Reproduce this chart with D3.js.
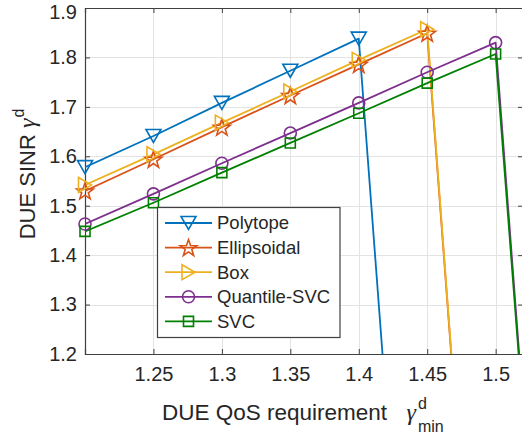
<!DOCTYPE html>
<html>
<head>
<meta charset="utf-8">
<script src="https://cdn.jsdelivr.net/npm/d3@7/dist/d3.min.js"></script>
<style>
  html, body { margin: 0; padding: 0; background: #fff; }
  svg { display: block; font-family: "Liberation Sans", Arial, Helvetica, sans-serif; }
  .greek { font-family: "Liberation Serif", "DejaVu Serif", serif; font-style: italic; }
</style>
</head>
<body>
<svg id="chart" width="522" height="437"></svg>
<script>
// QoS requirement (x) and achieved DUE SINR (y) for each scheme; 0 = infeasible
const qosValues = [1.2, 1.25, 1.3, 1.35, 1.4, 1.45, 1.5, 1.55];
const polytope    = [1.578, 1.641, 1.708, 1.773, 1.838, 0, 0, 0];
const ellipsoidal = [1.530, 1.594, 1.659, 1.723, 1.786, 1.849, 0, 0];
const box         = [1.542, 1.604, 1.668, 1.731, 1.795, 1.857, 0, 0];
const quantileSvc = [1.463, 1.524, 1.586, 1.647, 1.708, 1.770, 1.830, 0];
const svc         = [1.448, 1.506, 1.567, 1.627, 1.687, 1.748, 1.807, 0];

const seriesNames = ["Polytope", "Ellipsoidal", "Box", "Quantile-SVC", "SVC"];
const xTicks = [1.25, 1.3, 1.35, 1.4, 1.45, 1.5];
const yTicks = [1.2, 1.3, 1.4, 1.5, 1.6, 1.7, 1.8, 1.9];

const seriesValues = [polytope, ellipsoidal, box, quantileSvc, svc];
const colors = ["#0072BD", "#D95319", "#EDB120", "#7E2F8E", "#008000"];
const markers = ["triDown", "star", "triRight", "circle", "square"];

const svg = d3.select("#chart");
const plotLeft = 85, plotRight = 523, plotTop = 8, plotBottom = 354;

const x = d3.scaleLinear().domain([1.2, 1.52]).range([plotLeft, plotRight]);
const y = d3.scaleLinear().domain([1.2, 1.9]).range([plotBottom, plotTop]);

const textColor = "#262626";

// marker shapes centred on (0,0)
function markerPath(kind) {
  switch (kind) {
    case "triDown": return "M-7.5,-6.5L7.5,-6.5L0,6.5Z";
    case "triRight": return "M-6.5,-7.5L6.5,0L-6.5,7.5Z";
    case "square": return "M-5,-5H5V5H-5Z";
    case "circle": return "M6,0A6,6 0 1,1 -6,0A6,6 0 1,1 6,0Z";
    case "star": {
      const R = 8.8, r = 3.5;
      let p = "";
      for (let i = 0; i < 10; i++) {
        const a = -Math.PI / 2 + i * Math.PI / 5;
        const rr = i % 2 === 0 ? R : r;
        p += (i === 0 ? "M" : "L") + (rr * Math.cos(a)).toFixed(2) + "," + (rr * Math.sin(a) + 0.8).toFixed(2);
      }
      return p + "Z";
    }
  }
}

svg.append("defs").append("clipPath").attr("id", "plot-clip")
  .append("rect").attr("x", plotLeft).attr("y", plotTop)
  .attr("width", plotRight - plotLeft).attr("height", plotBottom - plotTop);

// background
svg.append("rect").attr("x", plotLeft).attr("y", plotTop)
  .attr("width", plotRight - plotLeft).attr("height", plotBottom - plotTop).attr("fill", "#fff");

// grid
const grid = svg.append("g").attr("stroke", "#e3e3e3").attr("stroke-width", 1);
grid.selectAll("line.gx").data(xTicks).join("line").attr("class", "gx")
  .attr("x1", d => Math.round(x(d)) + 0.5).attr("x2", d => Math.round(x(d)) + 0.5)
  .attr("y1", plotTop).attr("y2", plotBottom);
grid.selectAll("line.gy").data(yTicks).join("line").attr("class", "gy")
  .attr("y1", d => Math.round(y(d)) + 0.5).attr("y2", d => Math.round(y(d)) + 0.5)
  .attr("x1", plotLeft).attr("x2", plotRight);

// axes (inward ticks on all four sides)
const axisColor = "#404040";
const xAxisB = d3.axisBottom(x).tickValues(xTicks).tickSize(-5).tickPadding(13).tickFormat(d3.format("~g"));
const xAxisT = d3.axisTop(x).tickValues(xTicks).tickSize(-5).tickFormat("");
const yAxisL = d3.axisLeft(y).tickValues(yTicks).tickSize(-5).tickPadding(8).tickFormat(d3.format(".1f"));
const yAxisR = d3.axisRight(y).tickValues(yTicks).tickSize(-5).tickFormat("");

function styleAxis(g) {
  g.selectAll("path.domain").attr("stroke", axisColor).attr("stroke-width", 1.2);
  g.selectAll(".tick line").attr("stroke", axisColor).attr("stroke-width", 1);
  g.selectAll(".tick text").attr("fill", textColor).attr("font-size", 20)
    .attr("font-family", "Liberation Sans, Arial, sans-serif");
}

svg.append("g").attr("transform", `translate(0,${plotBottom})`).call(xAxisB).call(styleAxis);
svg.append("g").attr("transform", `translate(0,${plotTop})`).call(xAxisT).call(styleAxis);
const yAxisG = svg.append("g").attr("transform", `translate(${plotLeft},0)`).call(yAxisL).call(styleAxis);
// keep the topmost label inside the figure
yAxisG.selectAll(".tick").filter(d => d === 1.9).select("text").attr("dy", "0.5em");
svg.append("g").attr("transform", `translate(${plotRight},0)`).call(yAxisR).call(styleAxis);

// series: lines clipped to the axes, markers drawn on top unclipped
const plot = svg.append("g").attr("clip-path", "url(#plot-clip)");
const markLayer = svg.append("g");
const line = d3.line().x((d, i) => x(qosValues[i])).y(d => y(d));

seriesValues.forEach((vals, s) => {
  plot.append("path").datum(vals).attr("d", line)
    .attr("fill", "none").attr("stroke", colors[s]).attr("stroke-width", 1.8)
    .attr("stroke-linejoin", "round");
  markLayer.append("g").selectAll("path")
    .data(vals.map((v, i) => ({ v, q: qosValues[i] })).filter(d => d.v >= 1.2))
    .join("path")
    .attr("transform", d => `translate(${x(d.q)},${y(d.v)})`)
    .attr("d", markerPath(markers[s]))
    .attr("fill", "none").attr("stroke", colors[s]).attr("stroke-width", 1.6)
    .attr("stroke-linejoin", "miter");
});

// x axis title
const xt = svg.append("text").attr("x", 162).attr("y", 420)
  .attr("fill", textColor).attr("font-size", 22.5);
xt.append("tspan").text("DUE QoS requirement \u00a0");
xt.append("tspan").attr("class", "greek").attr("font-size", 24).attr("dx", 7).text("γ");
xt.append("tspan").attr("font-size", 16).attr("dx", 2).attr("dy", -11).text("d");
xt.append("tspan").attr("font-size", 16).attr("dx", -9).attr("dy", 23).text("min");

// y axis title
const yt = svg.append("text").attr("transform", "translate(35,174) rotate(-90)")
  .attr("text-anchor", "middle").attr("fill", textColor).attr("font-size", 22);
yt.append("tspan").text("DUE SINR ");
yt.append("tspan").attr("class", "greek").attr("font-size", 24).text("γ");
yt.append("tspan").attr("font-size", 16).attr("dx", 1).attr("dy", -11).text("d");

// legend
const lg = svg.append("g");
lg.append("rect").attr("x", 157.5).attr("y", 207.5).attr("width", 182.5).attr("height", 130)
  .attr("fill", "#fff").attr("stroke", axisColor).attr("stroke-width", 1.2);
seriesNames.forEach((name, s) => {
  const yy = 223 + s * 24.6;
  lg.append("line").attr("x1", 165).attr("x2", 212).attr("y1", yy).attr("y2", yy)
    .attr("stroke", colors[s]).attr("stroke-width", 1.8);
  lg.append("path").attr("transform", `translate(188.5,${yy})`).attr("d", markerPath(markers[s]))
    .attr("fill", "none").attr("stroke", colors[s]).attr("stroke-width", 1.6);
  lg.append("text").attr("x", 217).attr("y", yy).attr("dy", "0.35em")
    .attr("fill", textColor).attr("font-size", 18.5).text(name);
});
</script>
</body>
</html>
